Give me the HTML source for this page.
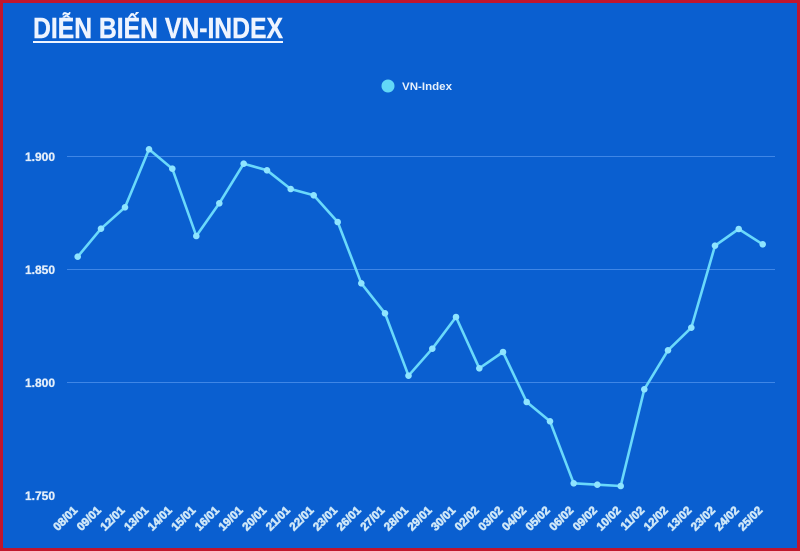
<!DOCTYPE html>
<html>
<head>
<meta charset="utf-8">
<style>
  html,body{margin:0;padding:0;background:#0a5fd0;}
  svg{display:block;}
</style>
</head>
<body>
<svg width="800" height="551" viewBox="0 0 800 551" xmlns="http://www.w3.org/2000/svg">
  <rect x="0" y="0" width="800" height="551" fill="#c0162e"/>
  <rect x="3" y="3" width="794" height="545" fill="#0a5fd0"/>

  <!-- Title -->
  <text x="33" y="38" font-family="Liberation Sans, sans-serif" font-weight="bold" font-size="29" fill="#eef4ff" stroke="#eef4ff" stroke-width="0.4" textLength="250" lengthAdjust="spacingAndGlyphs">DIỄN BIẾN VN-INDEX</text>
  <rect x="33" y="41" width="250" height="2" fill="#eef4ff"/>

  <!-- Legend -->
  <circle cx="388" cy="86" r="6.5" fill="#62d8f7"/>
  <text x="402" y="90" font-family="Liberation Sans, sans-serif" font-weight="bold" font-size="11" fill="#e6f0fb" textLength="50" lengthAdjust="spacingAndGlyphs">VN-Index</text>

  <!-- Gridlines -->
  <g stroke="#3f86e6" stroke-width="1">
    <line x1="67" y1="156.5" x2="775" y2="156.5"/>
    <line x1="67" y1="269.5" x2="775" y2="269.5"/>
    <line x1="67" y1="382.5" x2="775" y2="382.5"/>
  </g>

  <!-- Y labels -->
  <g font-family="Liberation Sans, sans-serif" font-weight="bold" font-size="12" fill="#e3eefa" stroke="#e3eefa" stroke-width="0.3" text-anchor="end">
    <text x="55" y="161">1.900</text>
    <text x="55" y="274">1.850</text>
    <text x="55" y="387">1.800</text>
    <text x="55" y="500">1.750</text>
  </g>

  <!-- Series -->
  <polyline fill="none" stroke="#6ad9fb" stroke-width="2.6" stroke-linejoin="round"
    points="77.7,256.7 101,228.7 125,207.3 149,149.3 172.3,168.7 196.3,236 219.3,203.3 243.7,163.7 267,170.3 290.7,189 313.7,195.3 337.7,222 361.3,283.3 385,313.3 408.5,375.7 432.3,348.7 456,317 479.3,368.3 503,352 526.7,402 550,421.3 573.7,483.3 597.3,484.7 620.7,486 644.3,389.3 668,350.3 691.3,327.7 715,245.7 738.7,229 762.7,244.3"/>
  <g fill="#8ee4ff">
    <circle cx="77.7" cy="256.7" r="3.3"/><circle cx="101" cy="228.7" r="3.3"/><circle cx="125" cy="207.3" r="3.3"/>
    <circle cx="149" cy="149.3" r="3.3"/><circle cx="172.3" cy="168.7" r="3.3"/><circle cx="196.3" cy="236" r="3.3"/>
    <circle cx="219.3" cy="203.3" r="3.3"/><circle cx="243.7" cy="163.7" r="3.3"/><circle cx="267" cy="170.3" r="3.3"/>
    <circle cx="290.7" cy="189" r="3.3"/><circle cx="313.7" cy="195.3" r="3.3"/><circle cx="337.7" cy="222" r="3.3"/>
    <circle cx="361.3" cy="283.3" r="3.3"/><circle cx="385" cy="313.3" r="3.3"/><circle cx="408.5" cy="375.7" r="3.3"/>
    <circle cx="432.3" cy="348.7" r="3.3"/><circle cx="456" cy="317" r="3.3"/><circle cx="479.3" cy="368.3" r="3.3"/>
    <circle cx="503" cy="352" r="3.3"/><circle cx="526.7" cy="402" r="3.3"/><circle cx="550" cy="421.3" r="3.3"/>
    <circle cx="573.7" cy="483.3" r="3.3"/><circle cx="597.3" cy="484.7" r="3.3"/><circle cx="620.7" cy="486" r="3.3"/>
    <circle cx="644.3" cy="389.3" r="3.3"/><circle cx="668" cy="350.3" r="3.3"/><circle cx="691.3" cy="327.7" r="3.3"/>
    <circle cx="715" cy="245.7" r="3.3"/><circle cx="738.7" cy="229" r="3.3"/><circle cx="762.7" cy="244.3" r="3.3"/>
  </g>

  <!-- X labels -->
  <g font-family="Liberation Sans, sans-serif" font-weight="bold" font-size="11.5" fill="#d3e9f9" stroke="#c6e2f6" stroke-width="0.7" text-anchor="end">
    <text transform="translate(78.2,511) rotate(-45)">08/01</text>
    <text transform="translate(101.8,511) rotate(-45)">09/01</text>
    <text transform="translate(125.4,511) rotate(-45)">12/01</text>
    <text transform="translate(149.1,511) rotate(-45)">13/01</text>
    <text transform="translate(172.7,511) rotate(-45)">14/01</text>
    <text transform="translate(196.3,511) rotate(-45)">15/01</text>
    <text transform="translate(219.9,511) rotate(-45)">16/01</text>
    <text transform="translate(243.5,511) rotate(-45)">19/01</text>
    <text transform="translate(267.2,511) rotate(-45)">20/01</text>
    <text transform="translate(290.8,511) rotate(-45)">21/01</text>
    <text transform="translate(314.4,511) rotate(-45)">22/01</text>
    <text transform="translate(338.0,511) rotate(-45)">23/01</text>
    <text transform="translate(361.6,511) rotate(-45)">26/01</text>
    <text transform="translate(385.3,511) rotate(-45)">27/01</text>
    <text transform="translate(408.9,511) rotate(-45)">28/01</text>
    <text transform="translate(432.5,511) rotate(-45)">29/01</text>
    <text transform="translate(456.1,511) rotate(-45)">30/01</text>
    <text transform="translate(479.7,511) rotate(-45)">02/02</text>
    <text transform="translate(503.4,511) rotate(-45)">03/02</text>
    <text transform="translate(527.0,511) rotate(-45)">04/02</text>
    <text transform="translate(550.6,511) rotate(-45)">05/02</text>
    <text transform="translate(574.2,511) rotate(-45)">06/02</text>
    <text transform="translate(597.8,511) rotate(-45)">09/02</text>
    <text transform="translate(621.5,511) rotate(-45)">10/02</text>
    <text transform="translate(645.1,511) rotate(-45)">11/02</text>
    <text transform="translate(668.7,511) rotate(-45)">12/02</text>
    <text transform="translate(692.3,511) rotate(-45)">13/02</text>
    <text transform="translate(715.9,511) rotate(-45)">23/02</text>
    <text transform="translate(739.6,511) rotate(-45)">24/02</text>
    <text transform="translate(763.2,511) rotate(-45)">25/02</text>
  </g>
</svg>
</body>
</html>
